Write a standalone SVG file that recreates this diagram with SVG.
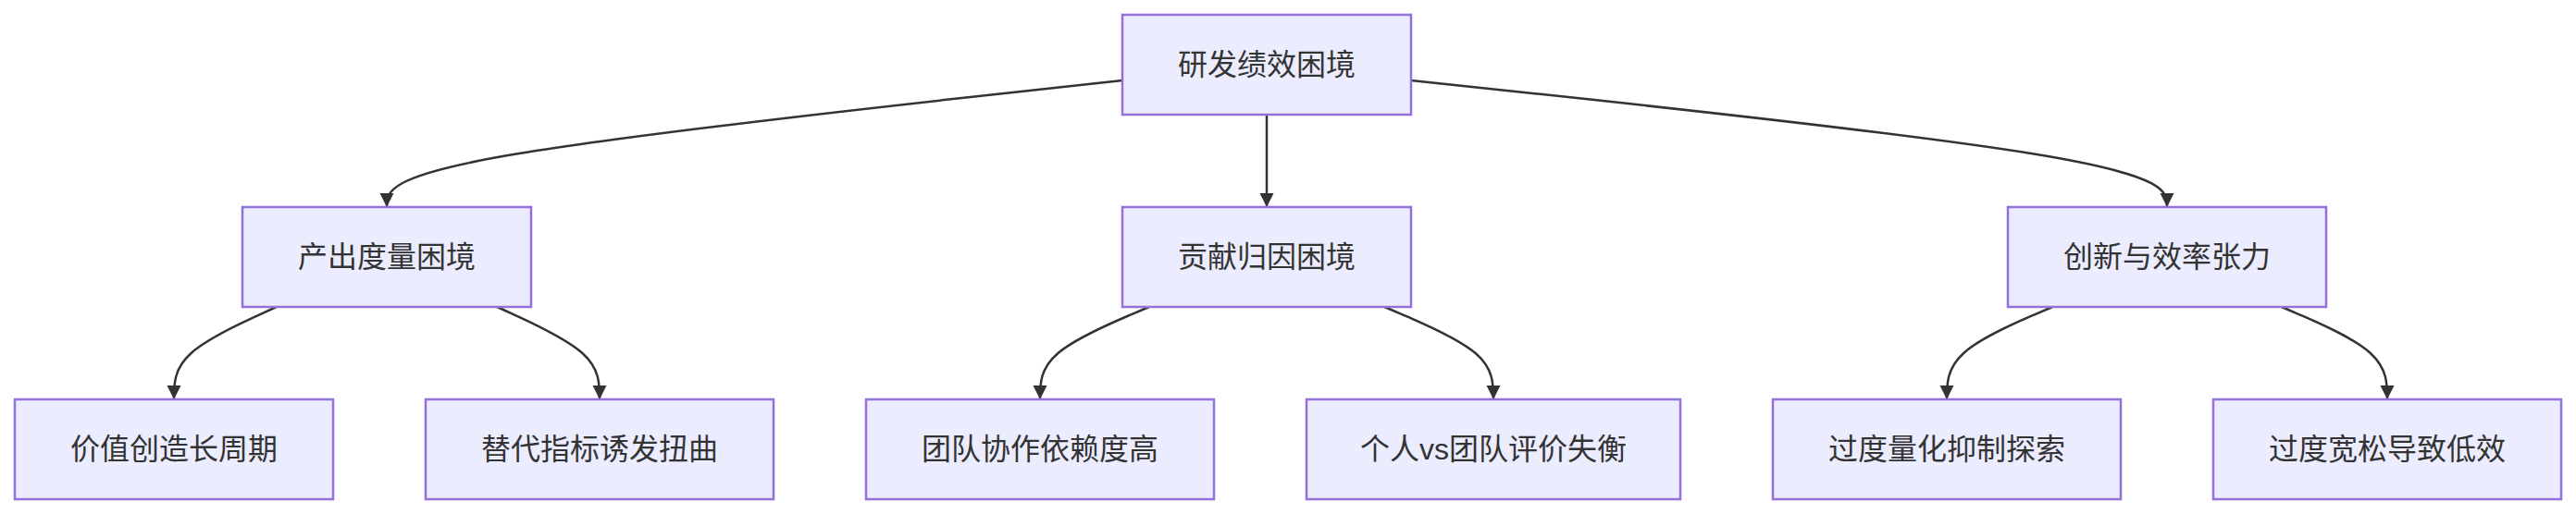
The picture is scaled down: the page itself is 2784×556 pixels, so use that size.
<svg xmlns="http://www.w3.org/2000/svg" width="2784" height="556" viewBox="0 0 2784 556">
<style>
.node rect{fill:#ECECFF;stroke:#9370DB;stroke-width:2.5;}
.node text{font-family:"Liberation Sans","Noto Sans CJK SC",sans-serif;font-size:32px;fill:#333333;text-anchor:middle;dominant-baseline:central;}
.edges path{fill:none;stroke:#333333;stroke-width:2.5;}
</style>
<defs>
<marker id="arrow" viewBox="0 0 10 10" refX="10" refY="5" markerUnits="userSpaceOnUse" markerWidth="15" markerHeight="16" orient="auto">
<path d="M0,0 L10,5 L0,10 z" fill="#333333"/>
</marker>
</defs>
<rect width="2784" height="556" fill="#ffffff"/>
<g class="edges">
<path d="M1213,87 L1080.5,101.5 C948,116 683,145 550.5,167.8 C418,190.7 418,207.3 418,224" marker-end="url(#arrow)"/>
<path d="M1369,124 L1369,224" marker-end="url(#arrow)"/>
<path d="M1525,87 L1661.2,101.5 C1797.3,116 2069.7,145 2205.8,167.8 C2342,190.7 2342,207.3 2342,224" marker-end="url(#arrow)"/>
<path d="M298.6,332 L280.5,340.3 C262.4,348.7 225.2,365.3 206.6,382 C188,398.7 188,415.3 188,432" marker-end="url(#arrow)"/>
<path d="M537.4,332 L555.5,340.3 C573.6,348.7 610.8,365.3 629.4,382 C648,398.7 648,415.3 648,432" marker-end="url(#arrow)"/>
<path d="M1241.8,332 L1222.3,340.3 C1202.8,348.7 1163,365.3 1143.5,382 C1124,398.7 1124,415.3 1124,432" marker-end="url(#arrow)"/>
<path d="M1496.3,332 L1515.9,340.3 C1535.5,348.7 1575.1,365.3 1594.6,382 C1614,398.7 1614,415.3 1614,432" marker-end="url(#arrow)"/>
<path d="M2218.1,332 L2198.8,340.3 C2179.6,348.7 2140.4,365.3 2122.2,382 C2104,398.7 2104,415.3 2104,432" marker-end="url(#arrow)"/>
<path d="M2465.9,332 L2485.2,340.3 C2504.4,348.7 2543.6,365.3 2561.8,382 C2580,398.7 2580,415.3 2580,432" marker-end="url(#arrow)"/>
</g>
<g id="root" class="node"><rect x="1213" y="16" width="312" height="108"/><text x="1369" y="70">研发绩效困境</text></g>
<g id="A" class="node"><rect x="262" y="224" width="312" height="108"/><text x="418" y="278">产出度量困境</text></g>
<g id="B" class="node"><rect x="1213" y="224" width="312" height="108"/><text x="1369" y="278">贡献归因困境</text></g>
<g id="C" class="node"><rect x="2170" y="224" width="344" height="108"/><text x="2342" y="278">创新与效率张力</text></g>
<g id="A1" class="node"><rect x="16" y="432" width="344" height="108"/><text x="188" y="486">价值创造长周期</text></g>
<g id="A2" class="node"><rect x="460" y="432" width="376" height="108"/><text x="648" y="486">替代指标诱发扭曲</text></g>
<g id="B1" class="node"><rect x="936" y="432" width="376" height="108"/><text x="1124" y="486">团队协作依赖度高</text></g>
<g id="B2" class="node"><rect x="1412" y="432" width="404" height="108"/><text x="1614" y="486">个人vs团队评价失衡</text></g>
<g id="C1" class="node"><rect x="1916" y="432" width="376" height="108"/><text x="2104" y="486">过度量化抑制探索</text></g>
<g id="C2" class="node"><rect x="2392" y="432" width="376" height="108"/><text x="2580" y="486">过度宽松导致低效</text></g>
</svg>
